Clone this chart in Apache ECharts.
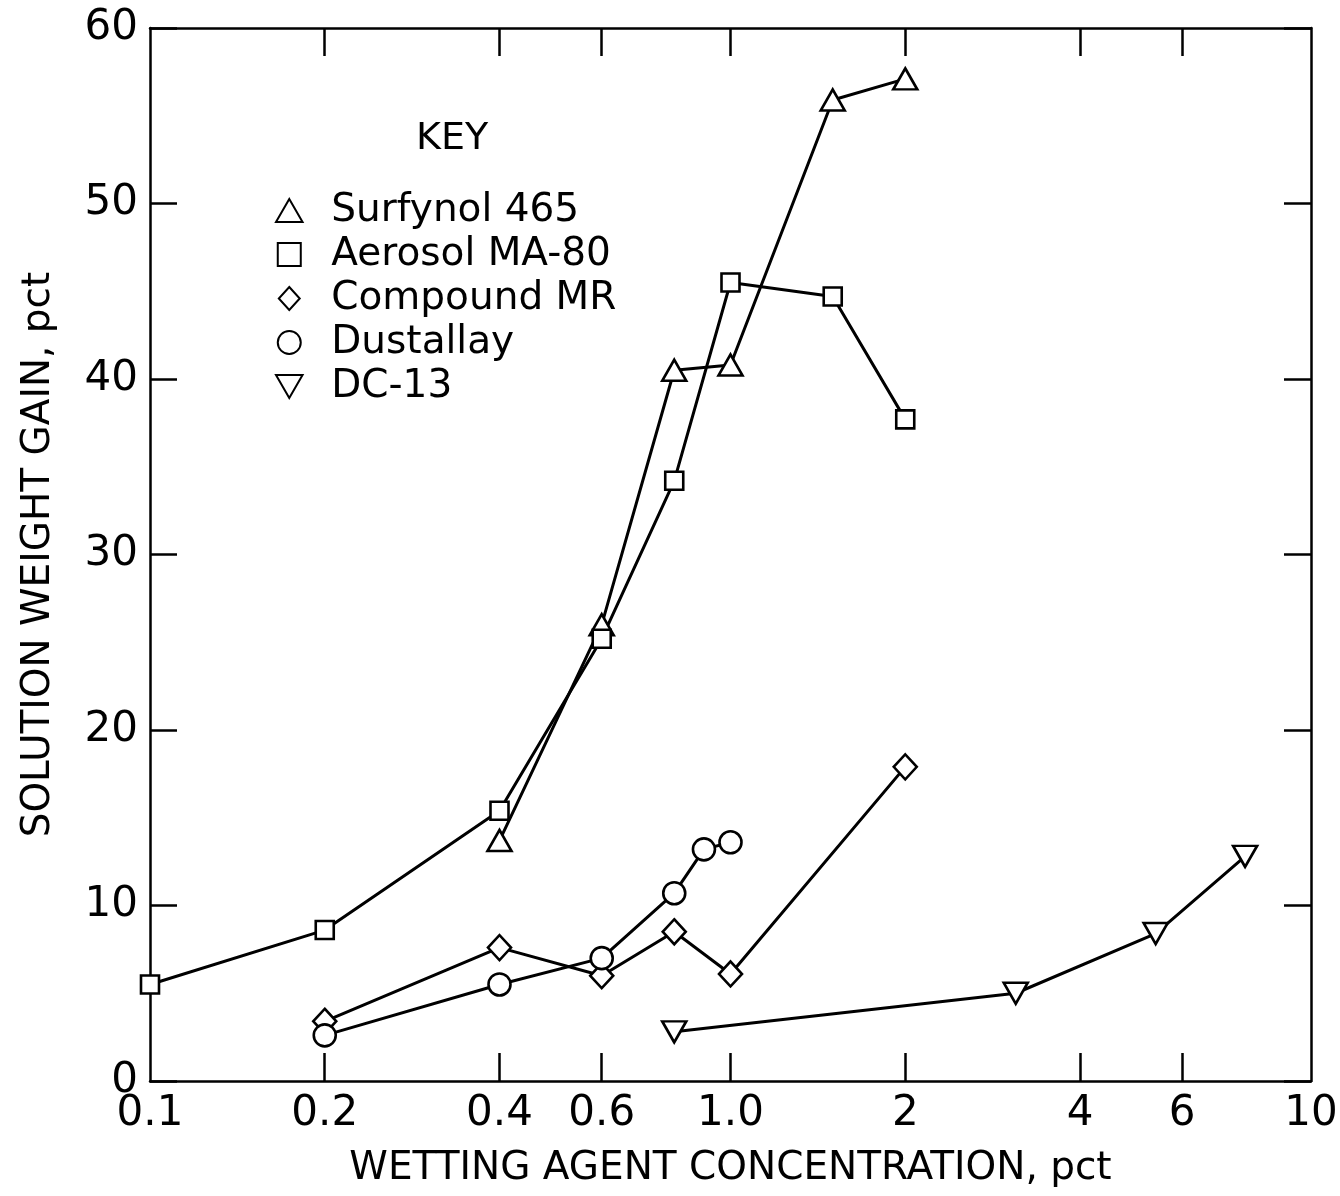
<!DOCTYPE html>
<html>
<head>
<meta charset="utf-8">
<script src="https://cdn.jsdelivr.net/npm/echarts@6/dist/echarts.min.js"></script>
<style>
html,body{margin:0;padding:0;background:#fff;}
#chart{width:1340px;height:1196px;}
</style>
</head>
<body>
<div id="chart"></div>
<script>
// ---- data ----
const surfX = [0.4, 0.6, 0.8, 1.0, 1.5, 2.0];
const surfY = [13.7, 26.0, 40.5, 40.8, 55.9, 57.1];
const aeroX = [0.1, 0.2, 0.4, 0.6, 0.8, 1.0, 1.5, 2.0];
const aeroY = [5.5, 8.6, 15.4, 25.2, 34.2, 45.5, 44.7, 37.7];
const compX = [0.2, 0.4, 0.6, 0.8, 1.0, 2.0];
const compY = [3.4, 7.6, 6.0, 8.5, 6.1, 17.9];
const dustX = [0.2, 0.4, 0.6, 0.8, 0.9, 1.0];
const dustY = [2.6, 5.5, 7.0, 10.7, 13.2, 13.6];
const dcX = [0.8, 3.1, 5.4, 7.7];
const dcY = [2.8, 5.0, 8.4, 12.8];

const seriesNames = ['Surfynol 465', 'Aerosol MA-80', 'Compound MR', 'Dustallay', 'DC-13'];
const xTickValues = [0.2, 0.4, 0.6, 1, 2, 4, 6];
const xLabelValues = [0.1, 0.2, 0.4, 0.6, 1, 2, 4, 6, 10];
const xLabelTexts = ['0.1', '0.2', '0.4', '0.6', '1.0', '2', '4', '6', '10'];
const yLabelTexts = ['0', '10', '20', '30', '40', '50', '60'];

const FONT = '"DejaVu Sans", "Liberation Sans", sans-serif';

function zip(xs, ys) { return xs.map((x, i) => [x, ys[i]]); }
function xFmt(v) {
  for (let i = 0; i < xLabelValues.length; i++) {
    if (Math.abs(v - xLabelValues[i]) < 1e-6 * xLabelValues[i] + 1e-9) return xLabelTexts[i];
  }
  return '';
}

const chart = echarts.init(document.getElementById('chart'), null, {renderer: 'canvas'});

const markerStyle = { color: '#fff', borderColor: '#000', borderWidth: 2.6 };
const lineStyle = { color: '#000', width: 3 };

function mkSeries(name, xs, ys, symbol, size, rotate) {
  return {
    name: name, type: 'line', data: zip(xs, ys),
    symbol: symbol, symbolSize: size, symbolRotate: rotate || 0,
    showAllSymbol: true,
    lineStyle: lineStyle, itemStyle: markerStyle,
    emphasis: { disabled: true }, animation: false, z: 3
  };
}

const axisLine = { show: true, onZero: false, lineStyle: { color: '#000', width: 2.5 } };

const option = {
  backgroundColor: '#fff',
  animation: false,
  grid: { left: 150, top: 28, right: 29, bottom: 115, outerBoundsMode: 'none' },
  xAxis: [
    {
      type: 'log', logBase: 10, min: 0.1, max: 10, position: 'bottom',
      axisLine: axisLine,
      axisTick: { show: true, inside: true, length: 28, lineStyle: { color: '#000', width: 2.5 }, customValues: xTickValues },
      axisLabel: { show: true, customValues: xLabelValues, formatter: xFmt, margin: 12,
        color: '#000', fontSize: 42, fontFamily: FONT },
      minorTick: { show: false }, splitLine: { show: false }, minorSplitLine: { show: false },
      name: 'WETTING AGENT CONCENTRATION, pct', nameLocation: 'middle', nameGap: 68,
      nameTextStyle: { color: '#000', fontSize: 39, fontFamily: FONT }
    },
    {
      type: 'log', logBase: 10, min: 0.1, max: 10, position: 'top',
      axisLine: axisLine,
      axisTick: { show: true, inside: true, length: 28, lineStyle: { color: '#000', width: 2.5 }, customValues: xTickValues },
      axisLabel: { show: false },
      minorTick: { show: false }, splitLine: { show: false }
    }
  ],
  yAxis: [
    {
      type: 'value', min: 0, max: 60, interval: 10, position: 'left',
      axisLine: axisLine,
      axisTick: { show: true, inside: true, length: 27, lineStyle: { color: '#000', width: 2.5 } },
      axisLabel: { show: true, margin: 12, color: '#000', fontSize: 42, fontFamily: FONT,
        formatter: function (v) { return yLabelTexts[Math.round(v / 10)]; } },
      splitLine: { show: false },
      name: 'SOLUTION WEIGHT GAIN, pct', nameLocation: 'middle', nameGap: 92, nameRotate: 90,
      nameTextStyle: { color: '#000', fontSize: 39, fontFamily: FONT }
    },
    {
      type: 'value', min: 0, max: 60, interval: 10, position: 'right',
      axisLine: axisLine,
      axisTick: { show: true, inside: true, length: 27, lineStyle: { color: '#000', width: 2.5 } },
      axisLabel: { show: false }, splitLine: { show: false }
    }
  ],
  legend: {
    orient: 'vertical', left: 270, top: 186,
    itemWidth: 74, itemHeight: 23, itemGap: 5,
    symbolKeepAspect: true,
    selectedMode: false,
    textStyle: { color: '#000', fontSize: 39, fontFamily: FONT },
    data: [
      { name: seriesNames[0], icon: 'path://M6,0L12,10.4L0,10.4Z' },
      { name: seriesNames[1], icon: 'path://M0,0L10,0L10,10L0,10Z' },
      { name: seriesNames[2], icon: 'path://M5,0L10,5.5L5,11L0,5.5Z' },
      { name: seriesNames[3], icon: 'circle' },
      { name: seriesNames[4], icon: 'path://M0,0L12,0L6,10.4Z' }
    ]
  },
  graphic: [
    { type: 'text', left: 416, top: 120, z: 10,
      style: { text: 'KEY', fill: '#000', font: '38px ' + FONT } }
  ],
  series: [
    mkSeries(seriesNames[0], surfX, surfY, 'triangle', [24, 21]),
    mkSeries(seriesNames[1], aeroX, aeroY, 'rect', 18),
    mkSeries(seriesNames[2], compX, compY, 'diamond', [23, 25]),
    mkSeries(seriesNames[3], dustX, dustY, 'circle', 22),
    mkSeries(seriesNames[4], dcX, dcY, 'triangle', [24, 21], 180)
  ]
};
chart.setOption(option);
</script>
</body>
</html>
